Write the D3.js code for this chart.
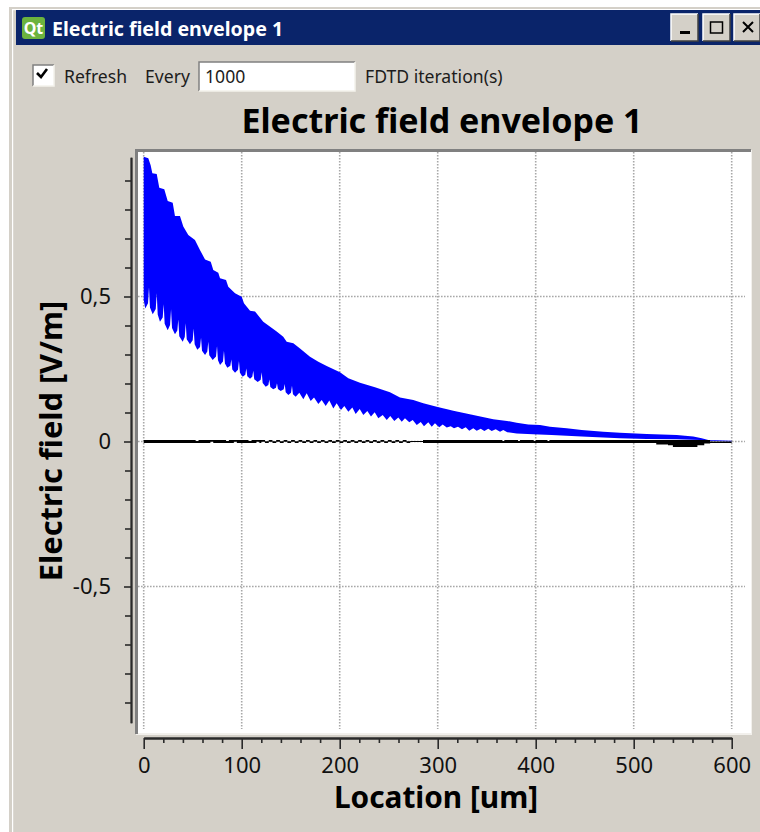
<!DOCTYPE html>
<html>
<head>
<meta charset="utf-8">
<script src="https://cdn.jsdelivr.net/npm/d3@7/dist/d3.min.js"></script>
<style>
html,body{margin:0;padding:0;background:#fff;overflow:hidden}
svg{display:block}
text{font-family:"Noto Sans",sans-serif}
</style>
</head>
<body>
<svg id="c" width="760" height="832"></svg>
<script>
const windowTitle = "Electric field envelope 1";
const chartTitle = "Electric field envelope 1";
const xLabel = "Location [um]";
const yLabel = "Electric field [V/m]";
const xMajor = [0,100,200,300,400,500,600];
const xMinor = [20,40,60,80,120,140,160,180,220,240,260,280,320,340,360,380,420,440,460,480,520,540,560,580];
const yMajor = [-0.5,0,0.5];
const yMinor = [-0.9,-0.8,-0.7,-0.6,-0.4,-0.3,-0.2,-0.1,0.1,0.2,0.3,0.4,0.6,0.7,0.8,0.9];

const upperLoc = [0,4.7,7.1,8.8,13.3,15.9,21,24.5,29.6,31.9,37,40.4,45.5,52.3,57.4,62.6,68.4,71,76.1,77.9,84,86.3,93.2,100,102.3,108.5,113.6,122,135.7,142.4,145.9,152.7,159.5,169.7,178.2,186.7,200.3,208.8,220.7,236,251.3,261.5,275.1,285.3,299,315.9,336.3,356.7,370.7,380.6,392.4,404.4,414.6,431.6,446.9,469,486,513.3,543.9,560.8,569.4,576.1,600];
const upperVal = [.982,.977,.953,.925,.922,.875,.870,.829,.823,.778,.778,.741,.712,.695,.660,.628,.620,.591,.582,.563,.557,.534,.511,.499,.477,.451,.448,.413,.379,.361,.344,.339,.321,.292,.275,.260,.239,.218,.203,.187,.170,.152,.143,.132,.120,.106,.091,.077,.071,.065,.059,.057,.051,.046,.040,.034,.030,.026,.022,.017,.011,.005,.003];

const lowerLoc = [0,1.6,4.4,5.4,6.4,9.2,12.3,13.3,14.3,16.6,19.4,20.4,21.4,24.5,26.9,27.9,28.9,31.9,34.3,35.3,36.3,39.8,41.9,42.9,43.9,47.2,50,51,52,54.7,57.5,58.5,59.5,62.6,64.9,65.9,66.9,70.4,73.8,74.8,75.8,77.9,80.9,81.9,82.9,85.3,88.4,89.4,90.4,93.2,96.2,97.2,98.2,101,103.7,104.7,105.7,108.5,110.8,111.8,112.8,116.3,119.4,120.4,121.4,124.5,127.2,128.2,129.2,132.2,135,136,137,139.8,142.9,143.9,144.9,147.6,150.3,151.3,152.3,155.1,158.8,162.9,166.3,170.4,173.8,178.2,181.6,185.7,189.4,193.5,196.9,201.3,204.7,208.8,212.9,216.3,220.4,224.1,228.2,231.9,235.7,239.4,243.9,248,251.6,255.7,259.8,263.3,266.6,271,274.5,278.6,282.7,286,290.4,293.9,297.2,301.6,305.1,309.2,313.3,316.6,320.7,324.8,328.6,332.2,336.3,339.8,343.9,347.6,351.6,355.1,359.2,363.6,366.9,371,380.6,397.2,416.3,431.6,446.9,469,486,513.3,543.9,567.6,576.1,600];
const lowerVal = [.488,.459,.477,.532,.462,.439,.457,.511,.438,.413,.428,.473,.406,.384,.402,.456,.391,.370,.383,.421,.363,.344,.360,.408,.353,.335,.349,.390,.335,.316,.326,.358,.313,.298,.310,.344,.297,.281,.293,.329,.280,.264,.276,.313,.269,.254,.261,.283,.248,.237,.247,.278,.237,.223,.230,.252,.225,.216,.223,.244,.215,.205,.213,.239,.202,.189,.195,.214,.188,.180,.185,.201,.181,.174,.180,.198,.170,.160,.168,.192,.163,.154,.168,.146,.166,.140,.152,.129,.143,.122,.141,.114,.132,.109,.122,.103,.117,.095,.112,.091,.105,.086,.101,.080,.091,.074,.088,.071,.083,.068,.080,.066,.074,.057,.067,.053,.066,.051,.063,.049,.059,.048,.053,.046,.051,.042,.049,.037,.046,.037,.044,.036,.044,.036,.042,.034,.040,.032,.028,.025,.022,.020,.017,.014,.011,.009,.008,.005,.003,0];

const blackLoc = [0,53,56,68,71,84,87,92,95,107,110,115,118,120,123.8,127.6,131.4,135.2,139,142.8,146.6,150.4,154.2,158,161.8,165.6,169.4,173.2,177,180.8,184.6,188.4,192.2,196,199.8,203.6,207.4,211.2,215,218.8,222.6,226.4,230.2,234,237.8,241.6,245.4,249.2,253,256.8,260.6,264.4,268.2,272,285,366,368,382,384,398,400,412,414,523,535,540,558,565,572,578,600];
const blackTop = [.005,.002,.005,.005,.005,.002,.005,.005,.005,.002,.005,.005,.005,.005,.001,.005,.001,.005,.001,.005,.001,.005,.001,.005,.001,.005,.001,.005,.001,.005,.001,.005,.001,.005,.001,.005,.001,.005,.001,.005,.001,.005,.001,.005,.001,.005,.001,.005,.001,.005,.001,.005,.001,.002,.005,.002,.005,.002,.005,.002,.005,.002,.005,.005,.005,.005,.005,.005,.005,0,0];
const blackBottom = [-.005,-.005,-.005,-.001,-.005,-.005,-.005,-.001,-.005,-.005,-.005,-.001,-.005,-.001,-.005,-.001,-.005,-.001,-.005,-.001,-.005,-.001,-.005,-.001,-.005,-.001,-.005,-.001,-.005,-.001,-.005,-.001,-.005,-.001,-.005,-.001,-.005,-.001,-.005,-.001,-.005,-.001,-.005,-.001,-.005,-.001,-.005,-.001,-.005,-.001,-.005,-.001,-.005,-.002,-.005,-.005,-.005,-.005,-.005,-.005,-.005,-.005,-.005,-.010,-.013,-.019,-.019,-.013,-.007,-.005,-.005];

const svg = d3.select("#c");
const BG = "#d4d0c8";

// window frame
svg.append("rect").attr("x",9).attr("y",7).attr("width",751).attr("height",825).attr("fill",BG);
svg.append("rect").attr("x",12).attr("y",9).attr("width",748).attr("height",1.2).attr("fill","#fff");
svg.append("rect").attr("x",12).attr("y",9).attr("width",1.2).attr("height",823).attr("fill","#fff");
svg.append("rect").attr("x",16).attr("y",10).attr("width",744).attr("height",35).attr("fill","#0a246a");

// Qt icon
svg.append("rect").attr("x",22).attr("y",17).attr("width",23).attr("height",22).attr("rx",3).attr("fill","#6cb33e");
svg.append("text").attr("x",33.5).attr("y",34).attr("text-anchor","middle").attr("fill","#fff")
  .attr("font-size",16).attr("font-weight",700).text("Qt");
svg.append("text").attr("x",52).attr("y",36).attr("fill","#fff").attr("font-size",19.6).attr("font-weight",700)
  .text(windowTitle);

// window buttons
function bevel(x,y,w,h,raised,fill){
  const g = svg.append("g");
  g.append("rect").attr("x",x).attr("y",y).attr("width",w).attr("height",h).attr("fill",fill);
  const a = raised ? "#fff" : "#808080", b = raised ? "#404040" : "#f4f2ec";
  g.append("path").attr("d",`M${x},${y+h}V${y}H${x+w}`).attr("fill","none").attr("stroke",a).attr("stroke-width",1.5);
  g.append("path").attr("d",`M${x+w},${y}V${y+h}H${x}`).attr("fill","none").attr("stroke",b).attr("stroke-width",1.5);
}
bevel(671,14,27,27,true,BG);
bevel(703,14,27,27,true,BG);
bevel(734,14,26,27,true,BG);
svg.append("rect").attr("x",680).attr("y",31).attr("width",10).attr("height",3).attr("fill","#000");
svg.append("rect").attr("x",710.5).attr("y",22).attr("width",12).attr("height",11).attr("fill","none").attr("stroke","#000").attr("stroke-width",1.5);
svg.append("path").attr("d","M743,22L753,32M753,22L743,32").attr("stroke","#000").attr("stroke-width",2);

// toolbar
bevel(33,65,21,21,false,"#fff");
svg.append("path").attr("d","M37,73L41,77L47,69").attr("fill","none").attr("stroke","#000").attr("stroke-width",2.6);
const labelStyle = s => s.attr("fill","#1c1c1c").attr("font-size",17.6);
labelStyle(svg.append("text").attr("x",64).attr("y",83).text("Refresh"));
labelStyle(svg.append("text").attr("x",145).attr("y",83).text("Every"));
bevel(199,62,156,29,false,"#fff");
labelStyle(svg.append("text").attr("x",205).attr("y",83).text("1000"));
labelStyle(svg.append("text").attr("x",365).attr("y",83).text("FDTD iteration(s)"));

// titles
svg.append("text").attr("x",442).attr("y",133).attr("text-anchor","middle").attr("fill","#000")
  .attr("font-size",34).attr("font-weight",700).text(chartTitle);
svg.append("text").attr("x",436).attr("y",808).attr("text-anchor","middle").attr("fill","#000")
  .attr("font-size",29.8).attr("font-weight",700).text(xLabel);
svg.append("text").attr("transform","translate(62,441) rotate(-90)").attr("text-anchor","middle").attr("fill","#000")
  .attr("font-size",30.8).attr("font-weight",700).text(yLabel);

// scales
const x = d3.scaleLinear().domain([0,600]).range([143.7,731.7]);
const y = d3.scaleLinear().domain([-0.97,0.98]).range([722.8,157.3]);

// canvas
svg.append("rect").attr("x",136).attr("y",150).attr("width",616).attr("height",585).attr("fill","#f2f0ec");
svg.append("rect").attr("x",138).attr("y",152).attr("width",613).attr("height",581).attr("fill","#fff");
svg.append("rect").attr("x",135).attr("y",149).attr("width",3).attr("height",585).attr("fill","#808080");
svg.append("rect").attr("x",135).attr("y",149).attr("width",616).attr("height",3).attr("fill","#808080");

// grid
const grid = svg.append("g").attr("stroke","#a8a8a8").attr("stroke-width",1.6).attr("stroke-dasharray","1.6 1.4");
grid.selectAll("line.v").data(xMajor).join("line").attr("class","v")
  .attr("x1",d=>x(d)).attr("x2",d=>x(d)).attr("y1",152).attr("y2",729);
grid.selectAll("line.h").data(yMajor).join("line").attr("class","h")
  .attr("y1",d=>y(d)).attr("y2",d=>y(d)).attr("x1",138).attr("x2",745);

// envelope band
const upper = upperLoc.map((l,i)=>[l,upperVal[i]]);
const lower = lowerLoc.map((l,i)=>[l,lowerVal[i]]);
const band = upper.concat(lower.slice().reverse());
const line = d3.line().x(d=>x(d[0])).y(d=>y(d[1])).curve(d3.curveLinear);
svg.append("path").attr("d",line(band)+"Z").attr("fill","#0000ff");

// black trace
const trace = blackLoc.map((l,i)=>({l,t:blackTop[i],b:blackBottom[i]}));
const area = d3.area().x(d=>x(d.l)).y0(d=>y(d.b)).y1(d=>y(d.t)).curve(d3.curveStepAfter);
svg.append("path").attr("d",area(trace)).attr("fill","#000");

// axes
const axisStyle = g => {
  g.selectAll("path.domain").attr("stroke","#2a2a2a").attr("stroke-width",1.8);
  g.selectAll(".tick line").attr("stroke","#2a2a2a").attr("stroke-width",1.6);
  g.selectAll("text").attr("fill","#111").attr("font-size",22).attr("font-family",'"Noto Sans",sans-serif');
};
const xAxisMinor = d3.axisBottom(x).tickValues(xMinor).tickSizeInner(5).tickSizeOuter(0).tickFormat("");
const xAxisMajor = d3.axisBottom(x).tickValues(xMajor).tickSizeInner(11).tickSizeOuter(0).tickPadding(8).tickFormat(d3.format("d"));
svg.append("g").attr("transform","translate(0,738)").call(xAxisMinor).call(axisStyle);
svg.append("g").attr("transform","translate(0,738)").call(xAxisMajor).call(axisStyle);

const comma = d => d===0 ? "0" : String(d).replace(".",",");
const yAxisMinor = d3.axisLeft(y).tickValues(yMinor).tickSizeInner(6).tickSizeOuter(0).tickFormat("");
const yAxisMajor = d3.axisLeft(y).tickValues(yMajor).tickSizeInner(7).tickSizeOuter(0).tickPadding(13).tickFormat(comma);
svg.append("g").attr("transform","translate(131,0)").call(yAxisMinor).call(axisStyle);
svg.append("g").attr("transform","translate(131,0)").call(yAxisMajor).call(axisStyle);
</script>
</body>
</html>
